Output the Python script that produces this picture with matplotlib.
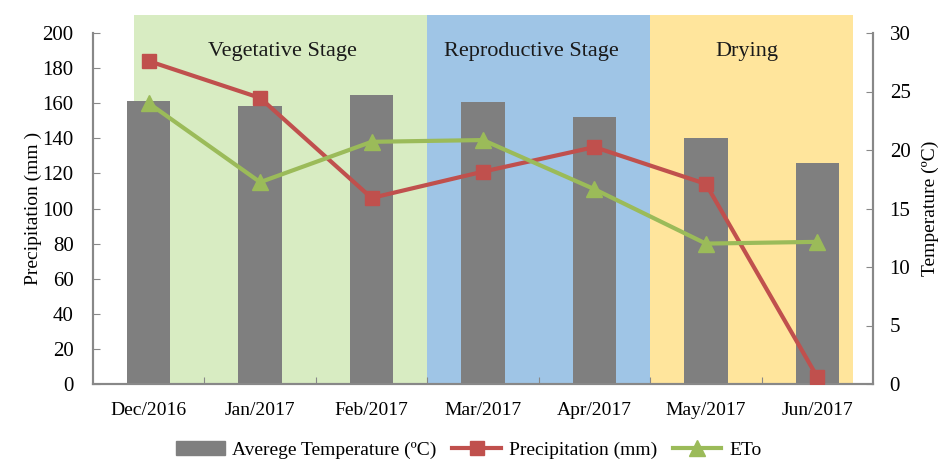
import matplotlib
matplotlib.use("Agg")
import matplotlib.pyplot as plt
from matplotlib.lines import Line2D
from matplotlib.patches import Patch

months = ["Dec/2016", "Jan/2017", "Feb/2017", "Mar/2017", "Apr/2017", "May/2017", "Jun/2017"]
temperature = [24.2, 23.8, 24.7, 24.1, 22.8, 21.0, 18.9]
precipitation = [184, 163, 106, 121, 135, 114, 4]
eto = [160, 115, 138, 139, 111, 80, 81]

stages = ["Vegetative Stage", "Reproductive Stage", "Drying"]
stage_start = [-0.13, 2.5, 4.5]
stage_end = [2.5, 4.5, 6.32]
stage_colors = ["#d8ecc2", "#9fc5e6", "#ffe59c"]
stage_text_x = [1.2, 3.43, 5.37]

plt.rcParams["font.family"] = ["Liberation Serif", "DejaVu Serif"]

fig = plt.figure(figsize=(9.43, 4.62), dpi=100)
ax = fig.add_axes([93 / 943, 78 / 462, 780 / 943, 351 / 462])
ax2 = ax.twinx()

x = range(len(months))

# background stages
for s, e, c in zip(stage_start, stage_end, stage_colors):
    ax.axvspan(s, e, ymin=0, ymax=1.051, color=c, lw=0, clip_on=False, zorder=0)
for tx, name in zip(stage_text_x, stages):
    ax.text(tx, 28.4, name, ha="center", va="center", fontsize=16, color="#1a1a1a", zorder=3)

# temperature bars (right scale) drawn on primary axes, lines on twin
ax.bar(x, temperature, width=0.39, color="#7f7f7f", zorder=2)
ax.set_ylim(0, 30)
ax.set_yticks(range(0, 31, 5))
ax.yaxis.tick_right()
ax.set_ylabel("Temperature (ºC)", fontsize=14)
ax.yaxis.set_label_coords(1.085, 0.5)

ax2.plot(x, precipitation, color="#c0504d", lw=3, marker="s", ms=10, zorder=4)
ax2.plot(x, eto, color="#9bbb59", lw=3, marker="^", ms=11, zorder=4)
ax2.set_ylim(0, 200)
ax2.set_yticks(range(0, 201, 20))
ax2.yaxis.tick_left()
ax2.set_ylabel("Precipitation (mm )", fontsize=14)
ax2.yaxis.set_label_coords(-0.087, 0.5)

ax.set_xlim(-0.5, 6.5)
ax.set_xticks([i + 0.5 for i in range(6)])
ax.set_xticklabels([])
ax.set_xticks(list(x), minor=True)
ax.set_xticklabels(months, minor=True, fontsize=14)
ax.tick_params(axis="x", which="minor", length=0, pad=13)
ax.tick_params(axis="x", which="major", direction="in", length=5, color="#888888")
ax.tick_params(axis="y", direction="in", length=5, color="#888888", labelsize=15, pad=12)
ax2.tick_params(axis="y", direction="in", length=5, color="#888888", labelsize=15, pad=14)

for a in (ax, ax2):
    a.spines["top"].set_visible(False)
    for side in ("left", "right", "bottom"):
        a.spines[side].set_color("#888888")
        a.spines[side].set_linewidth(1.5)

handles = [
    Patch(color="#7f7f7f"),
    Line2D([], [], color="#c0504d", lw=3, marker="s", ms=10),
    Line2D([], [], color="#9bbb59", lw=3, marker="^", ms=11),
]
labels = ["Averege Temperature (ºC)", "Precipitation (mm)", "ETo"]
fig.legend(handles, labels, loc="center", bbox_to_anchor=(0.497, 0.026), ncol=3,
           frameon=False, fontsize=14, handlelength=2.5, columnspacing=0.8, handletextpad=0.4)

fig.savefig("out.png", dpi=100)
